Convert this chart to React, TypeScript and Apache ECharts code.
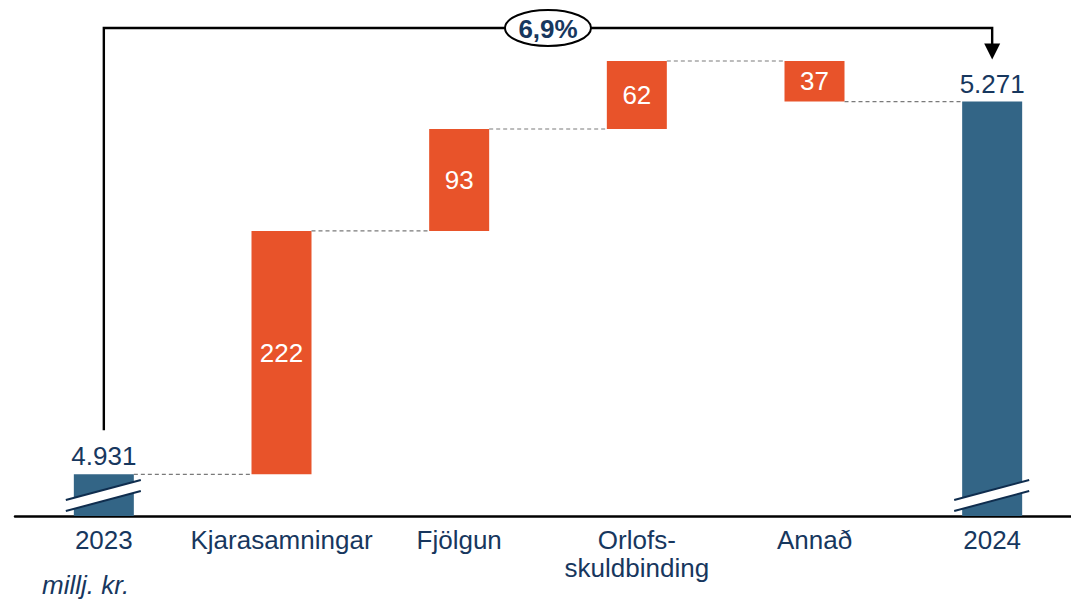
import React, { useEffect, useRef } from "react";
import * as echarts from "echarts";

const categories = ["2023", "Kjarasamningar", "Fjölgun", "Orlofs-\nskuldbinding", "Annað", "2024"];
// first and last are totals, middle are changes (Annað is a decrease)
const values = [4931, 222, 93, 62, -37, 5271];
const isTotal = [true, false, false, false, false, true];
const changeLabel = "6,9%";
const unitLabel = "millj. kr.";

const NAVY = "#336586";
const ORANGE = "#E8532A";
const TEXT = "#17375E";
const FONT = "'Liberation Sans', Arial, sans-serif";

const fmt = (v: number) => String(Math.round(v)).replace(/\B(?=(\d{3})+(?!\d))/g, ".");

export default function App() {
  const ref = useRef<HTMLDivElement>(null);
  useEffect(() => {
    const chart = echarts.init(ref.current!, undefined, { renderer: "svg" });

    const base: (number | string)[] = [];
    const delta: (number | string)[] = [];
    const total: (number | string)[] = [];
    const levelsAfter: number[] = [];
    let running = 0;
    values.forEach((v, i) => {
      if (isTotal[i]) {
        base.push(0);
        delta.push("-");
        total.push(v);
        running = v;
      } else {
        const next = running + v;
        base.push(Math.min(running, next));
        delta.push(Math.abs(v));
        total.push("-");
        running = next;
      }
      levelsAfter.push(running);
    });

    const option: any = {
      animation: false,
      grid: { left: 15, right: 0, top: 61, bottom: 85 },
      xAxis: {
        type: "category",
        data: categories,
        axisLine: { lineStyle: { color: "#000", width: 2.5 } },
        axisTick: { show: false },
        axisLabel: {
          color: TEXT,
          fontSize: 26,
          fontFamily: FONT,
          margin: 10,
          lineHeight: 28,
          interval: 0,
        },
      },
      yAxis: {
        type: "value",
        min: 4893,
        max: 5308,
        show: false,
        splitLine: { show: false },
      },
      series: [
        {
          type: "bar",
          stack: "w",
          data: base,
          barWidth: 60,
          itemStyle: { color: "transparent" },
          silent: true,
        },
        {
          type: "bar",
          stack: "w",
          data: delta,
          barWidth: 60,
          itemStyle: { color: ORANGE },
          label: {
            show: true,
            position: "inside",
            color: "#fff",
            fontSize: 26,
            fontFamily: FONT,
            formatter: (p: any) => fmt(p.value),
          },
        },
        {
          type: "bar",
          stack: "w",
          data: total,
          barWidth: 60,
          itemStyle: { color: NAVY },
          label: {
            show: true,
            position: "top",
            distance: 5,
            color: TEXT,
            fontSize: 26,
            fontFamily: FONT,
            formatter: (p: any) => fmt(p.value),
          },
        },
      ],
    };
    chart.setOption(option);

    const px = (i: number, v: number) => chart.convertToPixel({ gridIndex: 0 }, [i, v]) as number[];
    const half = 30;
    const graphics: any[] = [];

    for (let i = 0; i < values.length - 1; i++) {
      const lvl = levelsAfter[i];
      const a = px(i, lvl);
      const b = px(i + 1, lvl);
      graphics.push({
        type: "line",
        shape: { x1: a[0] + half, y1: a[1], x2: b[0] - half, y2: b[1] },
        style: { stroke: "#7a7a7a", lineWidth: 1.2, lineDash: [4, 3] },
        z: 10,
      });
    }

    const y0 = px(0, 4893)[1];
    values.forEach((v, i) => {
      if (!isTotal[i]) return;
      const cx = px(i, v)[0];
      graphics.push({
        type: "polygon",
        shape: {
          points: [
            [cx - 38, y0 - 16],
            [cx + 37, y0 - 36],
            [cx + 37, y0 - 25],
            [cx - 38, y0 - 5],
          ],
        },
        style: { fill: "#fff" },
        z: 20,
      });
      graphics.push({
        type: "line",
        shape: { x1: cx - 38, y1: y0 - 16, x2: cx + 37, y2: y0 - 36 },
        style: { stroke: "#0F2D4E", lineWidth: 2 },
        z: 21,
      });
      graphics.push({
        type: "line",
        shape: { x1: cx - 38, y1: y0 - 5, x2: cx + 37, y2: y0 - 25 },
        style: { stroke: "#0F2D4E", lineWidth: 2 },
        z: 21,
      });
    });

    const first = px(0, values[0]);
    const last = px(values.length - 1, values[values.length - 1]);
    const topY = 28;
    const startY = first[1] - 44;
    const tipY = last[1] - 42;
    graphics.push({
      type: "polyline",
      shape: {
        points: [
          [first[0], startY],
          [first[0], topY],
          [last[0], topY],
          [last[0], tipY - 15],
        ],
      },
      style: { stroke: "#000", lineWidth: 2.4, fill: null },
      z: 30,
    });
    graphics.push({
      type: "polygon",
      shape: {
        points: [
          [last[0] - 8, tipY - 16],
          [last[0] + 8, tipY - 16],
          [last[0], tipY],
        ],
      },
      style: { fill: "#000" },
      z: 30,
    });
    const mx = (first[0] + last[0]) / 2;
    graphics.push({
      type: "ellipse",
      shape: { cx: mx, cy: topY, rx: 43, ry: 18 },
      style: { fill: "#fff", stroke: "#000", lineWidth: 2 },
      z: 31,
    });
    graphics.push({
      type: "text",
      x: mx,
      y: topY + 1,
      style: {
        text: changeLabel,
        fill: TEXT,
        font: `bold 26px ${FONT}`,
        align: "center",
        verticalAlign: "middle",
      },
      z: 32,
    });
    graphics.push({
      type: "text",
      x: 42,
      y: 585,
      style: {
        text: unitLabel,
        fill: TEXT,
        font: `italic 26px ${FONT}`,
        align: "left",
        verticalAlign: "middle",
      },
      z: 32,
    });

    chart.setOption({ graphic: graphics });
    return () => chart.dispose();
  }, []);
  return (
    <div style={{ width: 1071, height: 601, position: "absolute", left: 0, top: 0, overflow: "hidden" }}>
      <div ref={ref} style={{ width: 1081, height: 601 }} />
    </div>
  );
}
